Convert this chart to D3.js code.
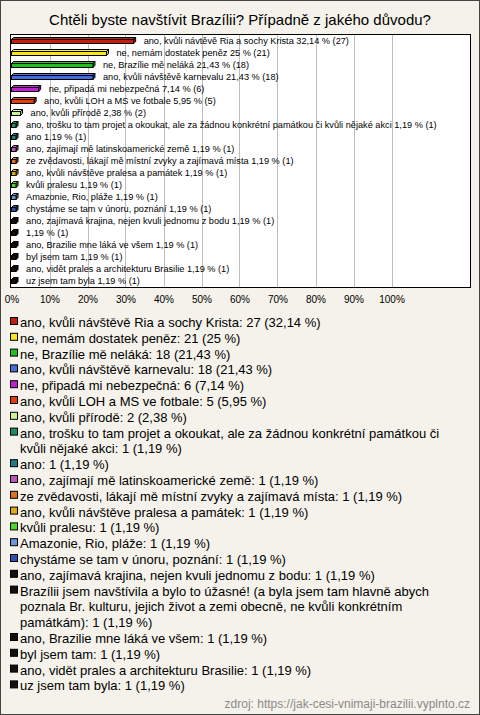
<!DOCTYPE html>
<html>
<head>
<meta charset="utf-8">
<script src="https://cdn.jsdelivr.net/npm/d3@7"></script>
<style>
  html, body { margin: 0; padding: 0; background: #f4f2ea; }
  svg { display: block; font-family: "Liberation Sans", Arial, sans-serif; }
</style>
</head>
<body>
<svg id="chart" width="480" height="715"></svg>
<script>
const title = "Chtěli byste navštívit Brazílii? Případně z jakého důvodu?";
const categories = [
  "ano, kvůli návštěvě Ria a sochy Krista",
  "ne, nemám dostatek peněz",
  "ne, Brazílie mě neláká",
  "ano, kvůli návštěvě karnevalu",
  "ne, připadá mi nebezpečná",
  "ano, kvůli LOH a MS ve fotbale",
  "ano, kvůli přírodě",
  "ano, trošku to tam projet a okoukat, ale za žádnou konkrétní památkou či kvůli nějaké akci",
  "ano",
  "ano, zajímají mě latinskoamerické země",
  "ze zvědavosti, lákají mě místní zvyky a zajímavá místa",
  "ano, kvůli návštěve pralesa a památek",
  "kvůli pralesu",
  "Amazonie, Rio, pláže",
  "chystáme se tam v únoru, poznání",
  "ano, zajímavá krajina, nejen kvuli jednomu z bodu",
  "Brazílii jsem navštívila a bylo to úžasné! (a byla jsem tam hlavně abych poznala Br. kulturu, jejich život a zemi obecně, ne kvůli konkrétním památkám)",
  "ano, Brazilie mne láká ve všem",
  "byl jsem tam",
  "ano, vidět prales a architekturu Brasilie",
  "uz jsem tam byla"
];
// labels printed next to the bars (as shown in the chart)
const barNames = [
  "ano, kvůli návtěvě Ria a sochy Krista",
  "ne, nemám dostatek peněz",
  "ne, Brazílie mě neláká",
  "ano, kvůli návštěvě karnevalu",
  "ne, připadá mi nebezpečná",
  "ano, kvůli LOH a MS ve fotbale",
  "ano, kvůli přírodě",
  "ano, trošku to tam projet a okoukat, ale za žádnou konkrétní památkou či kvůli nějaké akci",
  "ano",
  "ano, zajímají mě latinskoamerické země",
  "ze zvědavosti, lákají mě místní zvyky a zajímavá místa",
  "ano, kvůli návštěve pralesa a památek",
  "kvůli pralesu",
  "Amazonie, Rio, pláže",
  "chystáme se tam v únoru, poznání",
  "ano, zajímavá krajina, nejen kvuli jednomu z bodu",
  "",
  "ano, Brazilie mne láká ve všem",
  "byl jsem tam",
  "ano, vidět prales a architekturu Brasilie",
  "uz jsem tam byla"
];
const counts = [27, 21, 18, 18, 6, 5, 2, 1, 1, 1, 1, 1, 1, 1, 1, 1, 1, 1, 1, 1, 1];
const percents = [32.14, 25, 21.43, 21.43, 7.14, 5.95, 2.38, 1.19, 1.19, 1.19, 1.19, 1.19, 1.19, 1.19, 1.19, 1.19, 1.19, 1.19, 1.19, 1.19, 1.19];
const colors = ["#c41e0e", "#f7e51e", "#1fbf1f", "#4a6ad8", "#c020d0", "#e04010", "#ccf59a",
  "#1a9060", "#1f7a8a", "#bb55bb", "#e07020", "#e0aa10", "#44dd22", "#6a95dd", "#3050b0",
  "#111111", "#111111", "#111111", "#111111", "#111111", "#111111"];
const xTicks = [0, 10, 20, 30, 40, 50, 60, 70, 80, 90, 100];
const source = "zdroj: https://jak-cesi-vnimaji-brazilii.vyplnto.cz";

const fmt = v => String(v).replace(".", ",");
const svg = d3.select("#chart");
const W = 480, H = 715;

// background + outer border
svg.append("rect").attr("x", 0.5).attr("y", 0.5).attr("width", W - 1).attr("height", H - 1)
  .attr("fill", "#f4f2ea").attr("stroke", "#444");

// title
svg.append("text").attr("x", 240).attr("y", 25).attr("text-anchor", "middle")
  .attr("font-size", 15).attr("fill", "#000").text(title);

// plot area
const plot = { left: 10.5, top: 34.5, right: 470.5, bottom: 287.5 };
svg.append("rect").attr("x", plot.left).attr("y", plot.top)
  .attr("width", plot.right - plot.left).attr("height", plot.bottom - plot.top)
  .attr("fill", "#fff");

const x = d3.scaleLinear().domain([0, 100]).range([11.5, 391.5]);
const y = d3.scaleBand().domain(d3.range(categories.length)).range([35, 287]).padding(0);

// gridlines
svg.append("g").selectAll("line").data(xTicks.slice(1)).join("line")
  .attr("x1", d => Math.round(x(d)) + 0.5).attr("x2", d => Math.round(x(d)) + 0.5)
  .attr("y1", plot.top).attr("y2", plot.bottom)
  .attr("stroke", "#bdbdbd").attr("stroke-width", 1);

svg.append("rect").attr("x", plot.left).attr("y", plot.top)
  .attr("width", plot.right - plot.left).attr("height", plot.bottom - plot.top)
  .attr("fill", "none").attr("stroke", "#000");

// 3D bars
const dx = 2, dy = 2;
const bars = svg.append("g").selectAll("g").data(percents).join("g");
bars.each(function (v, i) {
  const g = d3.select(this);
  const c = y(i) + y.bandwidth() / 2;
  const x0 = x(0), x1 = x(v);
  const top = c - 1.5, bot = c + 2.5;
  const col = d3.color(colors[i]);
  // top face
  g.append("path")
    .attr("d", `M${x0},${top}L${x0 + dx},${top - dy}L${x1 + dx},${top - dy}L${x1},${top}Z`)
    .attr("fill", col.brighter(0.2)).attr("stroke", "#000").attr("stroke-width", 1)
    .attr("stroke-linejoin", "round");
  // right face
  g.append("path")
    .attr("d", `M${x1},${top}L${x1 + dx},${top - dy}L${x1 + dx},${bot - dy}L${x1},${bot}Z`)
    .attr("fill", col.darker(0.6)).attr("stroke", "#000").attr("stroke-width", 1)
    .attr("stroke-linejoin", "round");
  // front face
  g.append("rect").attr("x", x0).attr("y", top).attr("width", x1 - x0).attr("height", bot - top)
    .attr("fill", colors[i]).attr("stroke", "#000").attr("stroke-width", 1);
  // label
  const name = barNames[i];
  g.append("text").attr("x", x1 + 10).attr("y", c + 3.2)
    .attr("font-size", 9.2).attr("fill", "#000")
    .text((name ? name + " " : "") + fmt(v) + " % (" + counts[i] + ")");
});

// x axis
const axis = d3.axisBottom(x).tickValues(xTicks).tickFormat(d => d + "%").tickSize(0).tickPadding(8);
const ax = svg.append("g").attr("transform", `translate(0,${plot.bottom})`).call(axis);
ax.select(".domain").remove();
ax.selectAll("text").attr("font-size", 10).attr("font-family", "\"Liberation Sans\", Arial, sans-serif").attr("fill", "#000");

// legend
const lg = svg.append("g");
const lineH = 15.8, maxW = 444;
let base = 327;
categories.forEach((name, i) => {
  const label = name + ": " + counts[i] + " (" + fmt(percents[i]) + " %)";
  lg.append("rect").attr("x", 10.5).attr("y", base - 9.5).attr("width", 7).attr("height", 7)
    .attr("fill", colors[i]).attr("stroke", "#000").attr("stroke-width", 1);
  const t = lg.append("text").attr("x", 20).attr("y", base).attr("font-size", 13).attr("fill", "#000");
  const words = label.split(" ");
  let line = [];
  let tspan = t.append("tspan").attr("x", 20).attr("y", base);
  words.forEach(w => {
    line.push(w);
    tspan.text(line.join(" "));
    if (tspan.node().getComputedTextLength() > maxW && line.length > 1) {
      line.pop();
      tspan.text(line.join(" "));
      line = [w];
      base += lineH;
      tspan = t.append("tspan").attr("x", 20).attr("y", base).text(w);
    }
  });
  base += lineH;
});

// source
svg.append("text").attr("x", 470).attr("y", 708).attr("text-anchor", "end")
  .attr("font-size", 12).attr("fill", "#8a8a8a").text(source);
</script>
</body>
</html>
